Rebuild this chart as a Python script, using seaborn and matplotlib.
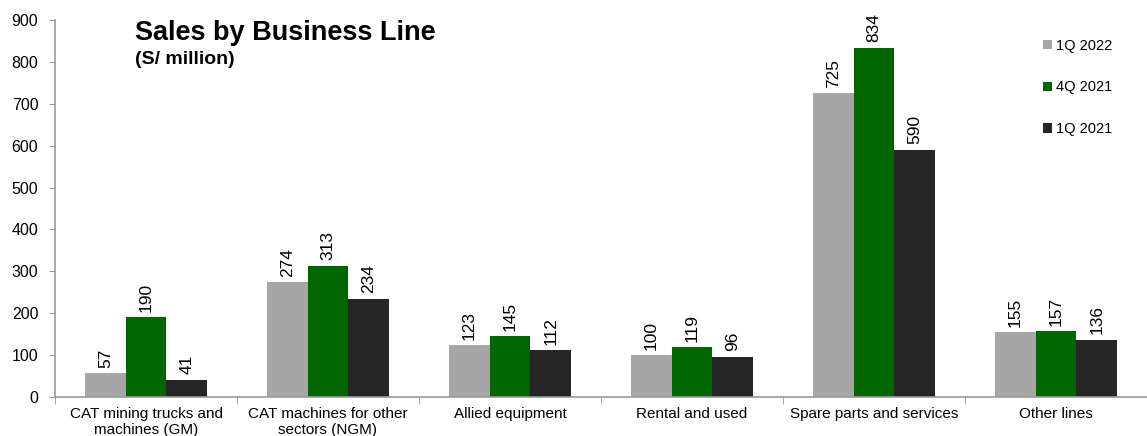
import matplotlib
matplotlib.use("Agg")
import matplotlib.pyplot as plt
import seaborn as sns
import pandas as pd

categories = ["CAT mining trucks and\nmachines (GM)", "CAT machines for other\nsectors (NGM)",
              "Allied equipment", "Rental and used", "Spare parts and services", "Other lines"]
periods = ["1Q 2022", "4Q 2021", "1Q 2021"]
q1_2022 = [57, 274, 123, 100, 725, 155]
q4_2021 = [190, 313, 145, 119, 834, 157]
q1_2021 = [41, 234, 112, 96, 590, 136]
colors = ["#A6A6A6", "#006600", "#262626"]

df = pd.DataFrame({
    "line": categories * 3,
    "period": [p for p in periods for _ in categories],
    "sales": q1_2022 + q4_2021 + q1_2021,
})

sns.set_style("white")
plt.rcParams["font.family"] = ["Liberation Sans", "DejaVu Sans"]
plt.rcParams["text.color"] = "black"
plt.rcParams["xtick.color"] = "black"
plt.rcParams["ytick.color"] = "black"

fig = plt.figure(figsize=(11.47, 4.36), dpi=100)
ax = fig.add_axes([55 / 1147, 39 / 436, 1092 / 1147, 377 / 436])

sns.barplot(data=df, x="line", y="sales", hue="period", palette=colors,
            width=0.67, saturation=1, ax=ax, edgecolor="none", legend=True)

for cont in ax.containers:
    ax.bar_label(cont, rotation=90, padding=4, fontsize=12.5, color="black")

ax.set_ylim(0, 900)
ax.set_xlim(-0.5, 5.47)
ax.set_yticks(range(0, 901, 100))
ax.set_xlabel("")
ax.set_ylabel("")
ax.tick_params(axis="y", labelsize=11.5, length=4, color="#999999", left=True, pad=8)
ax.tick_params(axis="x", which="major", labelsize=11, length=0, pad=7)
ax.set_xticks([i + 0.5 for i in range(-1, 6)], minor=True)
ax.tick_params(axis="x", which="minor", length=5, color="#999999", bottom=True)
for s in ["top", "right"]:
    ax.spines[s].set_visible(False)
for s in ["left", "bottom"]:
    ax.spines[s].set_color("#999999")
    ax.spines[s].set_linewidth(1.2)

ax.legend(frameon=False, loc="upper left", bbox_to_anchor=(0.893, 0.985),
          fontsize=10.5, handlelength=0.6, handleheight=0.6, handletextpad=0.3,
          labelspacing=1.9)

fig.text(135 / 1147, 1 - 33 / 436, "Sales by Business Line", fontsize=19.5,
         fontweight="bold", va="center")
fig.text(135 / 1147, 1 - 59 / 436, "(S/ million)", fontsize=14,
         fontweight="bold", va="center")

fig.savefig("out.png", dpi=100)
